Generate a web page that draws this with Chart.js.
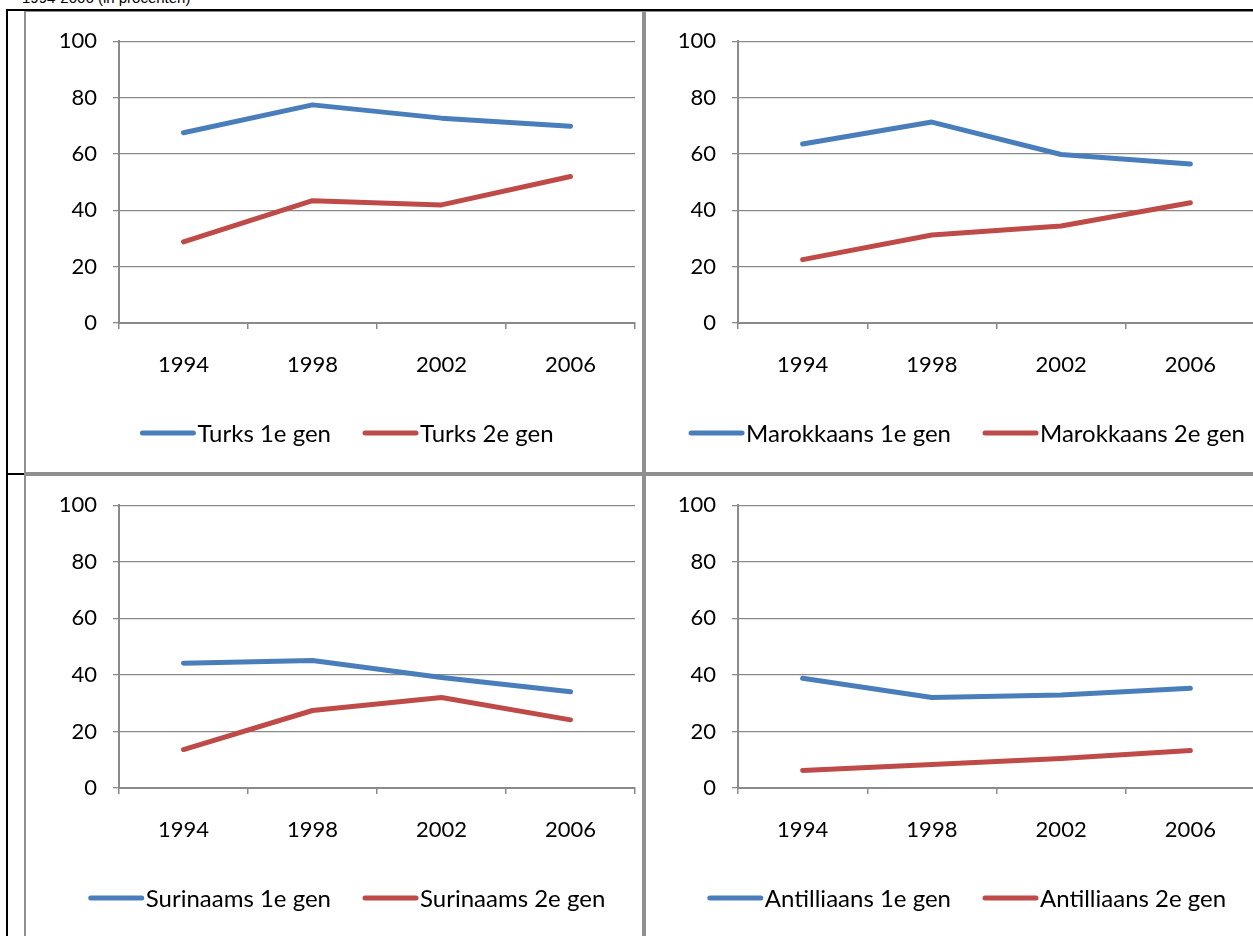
<!DOCTYPE html>
<html>
<head>
<meta charset="utf-8">
<script src="https://cdn.jsdelivr.net/npm/chart.js@4.4.0/dist/chart.umd.min.js"></script>
<style>
    html, body { margin: 0; padding: 0; background: #fff; overflow: hidden; }
    body { width: 1253px; height: 936px; position: relative; font-family: Lato, sans-serif; }
    .caption { position: absolute; left: 22px; top: -10px; font: 15px/1 "Liberation Sans", Arial, sans-serif; color: #000; white-space: nowrap; }
    .rule { position: absolute; background: #000; }
    .panel { position: absolute; width: 616px; height: 460px; border: 2px solid #8f8f8f; background: #fff; overflow: hidden; }
    .panel canvas { display: block; }
</style>
</head>
<body>
<div class="caption">1994-2006 (in procenten)</div>

<div class="rule" style="left:6px;top:473px;width:1247px;height:2px;"></div>

<div class="panel" style="left:24px;top:10px;"><canvas id="turks" width="616" height="460"></canvas></div>
<div class="panel" style="left:644px;top:10px;"><canvas id="marokkaans" width="616" height="460"></canvas></div>
<div class="panel" style="left:24px;top:474px;"><canvas id="surinaams" width="616" height="460"></canvas></div>
<div class="panel" style="left:644px;top:474px;"><canvas id="antilliaans" width="616" height="460"></canvas></div>

<div class="rule" style="left:6px;top:9px;width:2px;height:927px;"></div>
<div class="rule" style="left:6px;top:9px;width:1247px;height:2px;"></div>

<script>
// ── data ──────────────────────────────────────────────
const years = ['1994', '1998', '2002', '2006'];
const yTicks = [0, 20, 40, 60, 80, 100];

const turks1 = [67.5, 77.4, 72.7, 69.8];
const turks2 = [28.8, 43.4, 41.9, 52.0];
const marokkaans1 = [63.5, 71.3, 59.8, 56.4];
const marokkaans2 = [22.5, 31.2, 34.4, 42.7];
const surinaams1 = [44.1, 45.1, 39.1, 34.0];
const surinaams2 = [13.6, 27.4, 32.0, 24.1];
const antilliaans1 = [38.8, 32.0, 32.9, 35.3];
const antilliaans2 = [6.2, 8.3, 10.4, 13.3];

// ── style ─────────────────────────────────────────────
const BLUE = '#4a7ebb';
const RED = '#be4b48';
const GRID = '#8a8a8a';
const FONT = 'Lato';
const FONT_SIZE = 22;
const LEGEND_SIZE = 24;

Chart.defaults.font.family = FONT;
Chart.defaults.color = '#000';

// Excel-style legend: short thick line followed by the series name
const lineLegend = {
    id: 'lineLegend',
    afterDraw(chart, args, opts) {
        const ctx = chart.ctx;
        ctx.save();
        ctx.font = `${opts.size}px ${FONT}`;
        ctx.textBaseline = 'middle';
        const items = chart.data.datasets.map(ds => ({
            ds,
            w: opts.swatch + opts.textGap + ctx.measureText(ds.label).width,
        }));
        const total = items.reduce((s, it) => s + it.w, 0) + opts.itemGap * (items.length - 1);
        let x = chart.width / 2 + opts.shift - total / 2;
        const y = opts.y;
        items.forEach(({ ds, w }) => {
            ctx.strokeStyle = ds.borderColor;
            ctx.lineWidth = ds.borderWidth;
            ctx.lineCap = 'round';
            ctx.beginPath();
            ctx.moveTo(x + 2, y);
            ctx.lineTo(x + opts.swatch - 2, y);
            ctx.stroke();
            ctx.fillStyle = '#000';
            ctx.fillText(ds.label, x + opts.swatch + opts.textGap, y + 1);
            x += w + opts.itemGap;
        });
        ctx.restore();
    }
};

function series(label, data, color) {
    return {
        label,
        data,
        borderColor: color,
        backgroundColor: color,
        borderWidth: 5,
        borderCapStyle: 'round',
        borderJoinStyle: 'round',
        pointRadius: 0,
        tension: 0,
        clip: false,
    };
}

function makeChart(id, name, first, second, { yWidth, top, legendY }) {
    const xHeight = 50;
    const areaBottom = top === 27 ? 311 : 312;
    return new Chart(document.getElementById(id), {
        type: 'line',
        data: {
            labels: years,
            datasets: [
                series(`${name} 1e gen`, first, BLUE),
                series(`${name} 2e gen`, second, RED),
            ],
        },
        options: {
            responsive: false,
            animation: false,
            devicePixelRatio: 1,
            layout: {
                padding: { left: 0, right: 7, top, bottom: 460 - areaBottom - xHeight },
            },
            plugins: {
                legend: { display: false },
                tooltip: { enabled: false },
                lineLegend: { y: legendY, size: LEGEND_SIZE, swatch: 55, textGap: 2, itemGap: 32, shift: 13 },
            },
            scales: {
                x: {
                    offset: true,
                    grid: { display: true, drawOnChartArea: false, drawTicks: true, tickLength: 6, color: GRID, lineWidth: 1.5, offset: true },
                    border: { display: true, color: GRID, width: 2 },
                    ticks: { font: { size: FONT_SIZE }, padding: 23, maxRotation: 0 },
                    afterFit(scale) { scale.height = xHeight; },
                },
                y: {
                    min: 0,
                    max: 100,
                    afterBuildTicks(scale) { scale.ticks = yTicks.map(v => ({ value: v })); },
                    grid: { color: GRID, lineWidth: 1.3, tickLength: 6, drawTicks: true },
                    border: { display: true, color: GRID, width: 2 },
                    ticks: { font: { size: FONT_SIZE }, padding: 16 },
                    afterFit(scale) { scale.width = yWidth; },
                },
            },
        },
        plugins: [lineLegend],
    });
}

makeChart('turks', 'Turks', turks1, turks2, { yWidth: 93, top: 27, legendY: 421 });
makeChart('marokkaans', 'Marokkaans', marokkaans1, marokkaans2, { yWidth: 92, top: 27, legendY: 421 });
makeChart('surinaams', 'Surinaams', surinaams1, surinaams2, { yWidth: 93, top: 29, legendY: 422 });
makeChart('antilliaans', 'Antilliaans', antilliaans1, antilliaans2, { yWidth: 92, top: 29, legendY: 422 });
</script>
</body>
</html>
